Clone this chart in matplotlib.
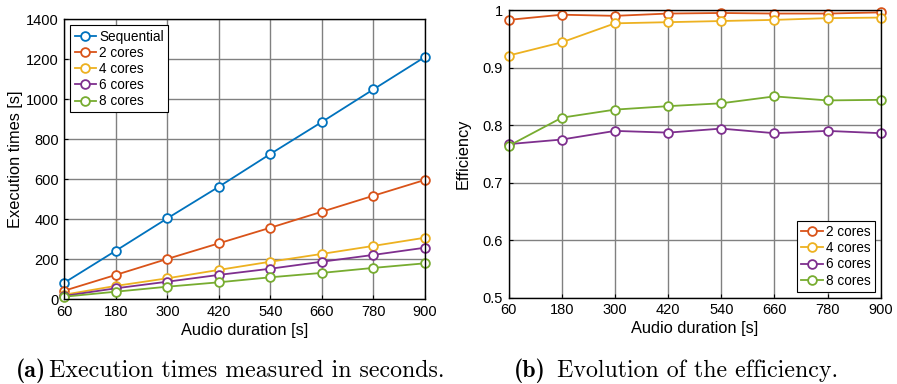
import matplotlib
matplotlib.use("Agg")
import matplotlib.pyplot as plt

durations = [60, 180, 300, 420, 540, 660, 780, 900]

time_seq = [83, 243, 405, 563, 727, 887, 1050, 1212]
time_2 = [43, 122, 202, 280, 358, 438, 518, 597]
time_4 = [23, 67, 105, 147, 188, 227, 267, 308]
time_6 = [17, 55, 88, 122, 153, 188, 222, 258]
time_8 = [13, 38, 63, 85, 110, 132, 157, 180]

eff_2 = [0.983, 0.992, 0.990, 0.994, 0.995, 0.994, 0.994, 0.996]
eff_4 = [0.921, 0.944, 0.977, 0.979, 0.981, 0.983, 0.986, 0.987]
eff_6 = [0.767, 0.775, 0.790, 0.787, 0.794, 0.786, 0.790, 0.786]
eff_8 = [0.764, 0.813, 0.827, 0.833, 0.838, 0.850, 0.843, 0.844]

labels_time = ["Sequential", "2 cores", "4 cores", "6 cores", "8 cores"]
labels_eff = ["2 cores", "4 cores", "6 cores", "8 cores"]

colors = ["#0072BD", "#D95319", "#EDB120", "#7E2F8E", "#77AC30"]

plt.rcParams['font.family'] = ['Liberation Sans', 'DejaVu Sans']
plt.rcParams['font.size'] = 10.5

fig = plt.figure(figsize=(8.97, 3.84), dpi=100)
ax1 = fig.add_axes([0.0717, 0.2206, 0.4021, 0.729])
ax2 = fig.add_axes([0.5671, 0.2247, 0.4147, 0.749])

def style(ax):
    ax.grid(True, color="#808080", linewidth=1.0)
    ax.set_axisbelow(True)
    ax.tick_params(direction="in", length=3, labelsize=10.5, pad=4)
    for s in ax.spines.values():
        s.set_linewidth(1.0)
        s.set_color("black")
    ax.set_xticks(durations)
    ax.set_xlim(60, 900)
    ax.set_xlabel("Audio duration [s]", fontsize=11.8, labelpad=3)

mk = dict(marker="o", markersize=6.3, markerfacecolor="white", markeredgewidth=1.3, linewidth=1.3)

leg_kw = dict(fancybox=False, edgecolor="black", framealpha=1, fontsize=9.8,
              borderpad=0.3, labelspacing=0.16, handlelength=1.6, handletextpad=0.2,
              borderaxespad=0.45)

for series, lab, c in zip([time_seq, time_2, time_4, time_6, time_8], labels_time, colors):
    ax1.plot(durations, series, color=c, markeredgecolor=c, label=lab, clip_on=False, **mk)
style(ax1)
ax1.set_ylim(0, 1400)
ax1.set_yticks(range(0, 1401, 200))
ax1.set_ylabel("Execution times [s]", fontsize=11.8, labelpad=2)
leg1 = ax1.legend(loc="upper left", **leg_kw)
leg1.get_frame().set_linewidth(0.8)

for series, lab, c in zip([eff_2, eff_4, eff_6, eff_8], labels_eff, colors[1:]):
    ax2.plot(durations, series, color=c, markeredgecolor=c, label=lab, clip_on=False, **mk)
style(ax2)
ax2.set_ylim(0.5, 1.0)
ax2.set_yticks([0.5, 0.6, 0.7, 0.8, 0.9, 1.0])
ax2.set_yticklabels(["0.5", "0.6", "0.7", "0.8", "0.9", "1"])
ax2.set_ylabel("Efficiency", fontsize=11.8, labelpad=9)
leg2 = ax2.legend(loc="lower right", **leg_kw)
leg2.get_frame().set_linewidth(0.8)

cap_kw = dict(fontsize=17.2, va="baseline", ha="left")
yb = 1 - 377/384
fig.text(16/897, yb, "(a)", fontfamily="cmb10", **cap_kw)
fig.text(49/897, yb, "Execution times measured in seconds.", fontfamily="cmr10", **cap_kw)
fig.text(514/897, yb, "(b)", fontfamily="cmb10", **cap_kw)
fig.text(557/897, yb, "Evolution of the efficiency.", fontfamily="cmr10", **cap_kw)

fig.savefig("out.png", dpi=100)
